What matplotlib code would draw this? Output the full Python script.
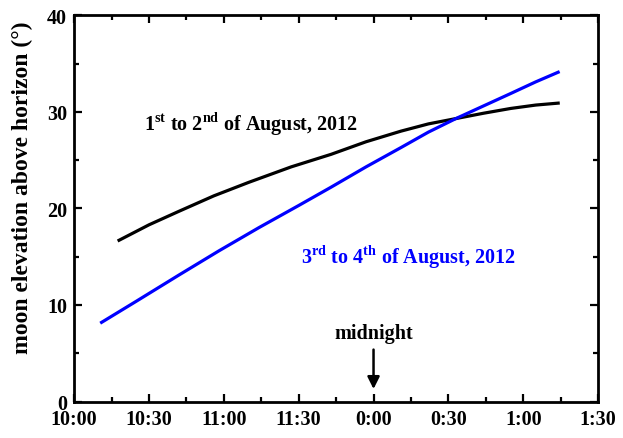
import matplotlib
matplotlib.use('Agg')
import matplotlib.pyplot as plt
from matplotlib.ticker import MultipleLocator

plt.rcParams['font.family'] = 'Liberation Serif'
plt.rcParams['font.weight'] = 'bold'
plt.rcParams['axes.labelweight'] = 'bold'
plt.rcParams['mathtext.fontset'] = 'custom'
plt.rcParams['mathtext.rm'] = 'Liberation Serif:bold'
plt.rcParams['mathtext.bf'] = 'Liberation Serif:bold'

# moon elevation, clock times (evening -> after midnight)
aug1_times = ['22:18', '22:30', '22:42', '22:56', '23:10', '23:27', '23:43', '23:57',
              '00:11', '00:22', '00:33', '00:44', '00:55', '01:05', '01:14']
aug1_elev = [16.7, 18.3, 19.7, 21.3, 22.7, 24.3, 25.6, 26.9,
             28.0, 28.75, 29.3, 29.85, 30.35, 30.7, 30.9]

aug3_times = ['22:11', '22:25', '22:42', '22:58', '23:14', '23:30', '23:43', '23:57',
              '00:11', '00:22', '00:33', '00:44', '00:55', '01:05', '01:14']
aug3_elev = [8.2, 10.4, 13.1, 15.6, 18.0, 20.3, 22.2, 24.3,
             26.3, 27.9, 29.3, 30.6, 31.9, 33.1, 34.1]

tick_labels = ['10:00', '10:30', '11:00', '11:30', '0:00', '0:30', '1:00', '1:30']


def minutes(t):
    h, m = map(int, t.split(':'))
    if h < 12:
        h += 24
    return h * 60 + m - 22 * 60


fig = plt.figure(figsize=(6.23, 4.39), dpi=100)
ax = fig.add_axes([0.119, 0.083, 0.841, 0.880])

ax.plot([minutes(t) for t in aug1_times], aug1_elev, color='black', lw=2.3,
        solid_joinstyle='round')
ax.plot([minutes(t) for t in aug3_times], aug3_elev, color='#0000ff', lw=2.3,
        solid_joinstyle='round')

ax.set_xlim(0, 210)
ax.set_ylim(0, 40)
ax.set_xticks(range(0, 211, 30))
ax.set_xticklabels(tick_labels)
ax.set_yticks([0, 10, 20, 30, 40])
ax.xaxis.set_minor_locator(MultipleLocator(15))
ax.yaxis.set_minor_locator(MultipleLocator(5))
ax.tick_params(which='both', direction='in', top=True, right=True, width=1.6,
               labelsize=14.5, pad=5)
ax.tick_params(which='major', length=6)
ax.tick_params(which='minor', length=3.5)
for s in ax.spines.values():
    s.set_linewidth(2)

ax.set_ylabel('moon elevation above horizon (°)', fontsize=17, fontweight='bold')
ax.yaxis.set_label_coords(-0.078, 0.557)

ax.text(71, 28.8, r'1$^{\rm st}$ to 2$^{\rm nd}$ of August, 2012',
        ha='center', va='center', fontsize=14.5)
ax.text(134, 15.0, r'3$^{\rm rd}$ to 4$^{\rm th}$ of August, 2012',
        ha='center', va='center', fontsize=14.5, color='#0000ff')
ax.annotate('midnight', xy=(120, 1.3), xytext=(120, 6.1),
            ha='center', va='bottom', fontsize=14.5,
            arrowprops=dict(arrowstyle='-|>', color='black', lw=1.8,
                            mutation_scale=18, shrinkA=3, shrinkB=0))

fig.savefig('out.png', dpi=100)
